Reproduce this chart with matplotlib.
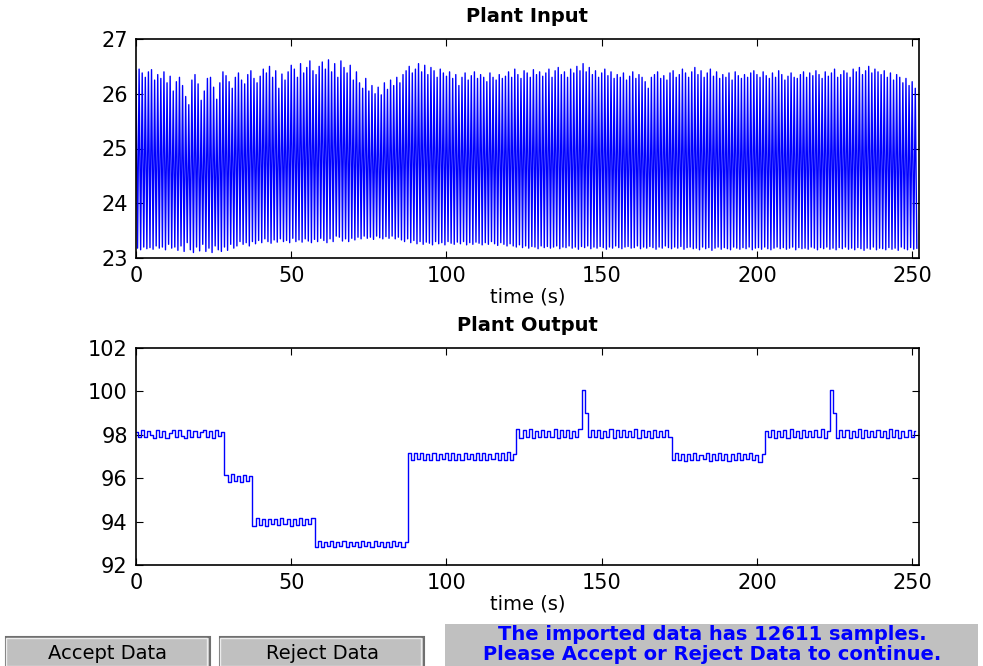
import numpy as np
import matplotlib
matplotlib.use("Agg")
import matplotlib.pyplot as plt
from matplotlib.patches import Rectangle

# the screenshot is horizontally stretched, DejaVu Sans is the widest face available
plt.rcParams['font.family'] = ['DejaVu Sans']

# Plant input: peak (high) and trough (low) value for every second of the record
input_highs = [
    26.42, 26.45, 26.38, 26.30, 26.40, 26.44, 26.25, 26.35, 26.28, 26.40, 26.20, 26.32,
    26.05, 26.22, 26.30, 26.15, 25.95, 25.80, 26.25, 26.35, 26.18, 25.88, 26.05, 26.28,
    26.30, 26.12, 25.90, 26.20, 26.40, 26.33, 26.22, 26.10, 26.30, 26.38, 26.25, 26.18,
    26.35, 26.42, 26.28, 26.20, 26.32, 26.45, 26.38, 26.50, 26.30, 26.42, 26.10, 26.36,
    26.25, 26.40, 26.52, 26.45, 26.30, 26.55, 26.38, 26.48, 26.60, 26.42, 26.35, 26.50,
    26.58, 26.45, 26.62, 26.40, 26.55, 26.30, 26.60, 26.48, 26.38, 26.52, 26.25, 26.40,
    26.20, 26.10, 26.28, 26.05, 26.15, 26.00, 26.12, 25.98, 26.20, 26.08, 26.25, 26.15,
    26.30, 26.20, 26.35, 26.42, 26.50, 26.38, 26.45, 26.55, 26.40, 26.52, 26.35, 26.48,
    26.42, 26.30, 26.45, 26.38, 26.32, 26.40, 26.28, 26.35, 26.15, 26.30, 26.38, 26.25,
    26.33, 26.40, 26.28, 26.35, 26.30, 26.22, 26.38, 26.30, 26.25, 26.35, 26.28, 26.32,
    26.40, 26.30, 26.45, 26.35, 26.28, 26.42, 26.38, 26.30, 26.44, 26.35, 26.40, 26.32,
    26.38, 26.45, 26.30, 26.42, 26.48, 26.35, 26.40, 26.30, 26.45, 26.38, 26.50, 26.42,
    26.55, 26.40, 26.48, 26.35, 26.42, 26.30, 26.38, 26.45, 26.33, 26.40, 26.28, 26.35,
    26.30, 26.38, 26.25, 26.32, 26.40, 26.28, 26.35, 26.30, 26.22, 26.10, 26.30, 26.35,
    26.40, 26.28, 26.33, 26.25, 26.38, 26.42, 26.30, 26.35, 26.45, 26.38, 26.30, 26.40,
    26.48, 26.35, 26.42, 26.30, 26.38, 26.45, 26.32, 26.40, 26.28, 26.35, 26.30, 26.38,
    26.25, 26.40, 26.33, 26.28, 26.35, 26.30, 26.38, 26.42, 26.35, 26.30, 26.40, 26.33,
    26.28, 26.38, 26.30, 26.42, 26.35, 26.25, 26.32, 26.38, 26.30, 26.28, 26.35, 26.40,
    26.30, 26.38, 26.33, 26.42, 26.35, 26.28, 26.40, 26.32, 26.38, 26.45, 26.30, 26.35,
    26.42, 26.38, 26.30, 26.45, 26.40, 26.48, 26.35, 26.42, 26.50, 26.38, 26.45, 26.40,
    26.35, 26.42, 26.30, 26.38, 26.25, 26.35, 26.30, 26.20, 26.28, 26.15, 26.22, 26.10,
]
input_lows = [
    23.18, 23.15, 23.20, 23.17, 23.19, 23.16, 23.22, 23.18, 23.20, 23.15, 23.25, 23.18,
    23.20, 23.14, 23.22, 23.12, 23.28, 23.15, 23.10, 23.20, 23.13, 23.25, 23.12, 23.18,
    23.10, 23.22, 23.15, 23.12, 23.20, 23.14, 23.25, 23.18, 23.22, 23.30, 23.25, 23.28,
    23.22, 23.30, 23.26, 23.32, 23.28, 23.35, 23.30, 23.27, 23.33, 23.29, 23.35, 23.30,
    23.32, 23.28, 23.36, 23.30, 23.33, 23.29, 23.35, 23.31, 23.28, 23.34, 23.30, 23.36,
    23.32, 23.28, 23.35, 23.30, 23.40, 23.38, 23.31, 23.35, 23.30, 23.36, 23.33, 23.38,
    23.35, 23.40, 23.36, 23.38, 23.34, 23.40, 23.37, 23.35, 23.39, 23.36, 23.40, 23.35,
    23.38, 23.33, 23.30, 23.35, 23.28, 23.32, 23.26, 23.30, 23.25, 23.29, 23.27, 23.24,
    23.30, 23.26, 23.28, 23.24, 23.30, 23.27, 23.25, 23.29, 23.26, 23.30, 23.24, 23.28,
    23.25, 23.29, 23.27, 23.24, 23.28, 23.25, 23.30, 23.26, 23.23, 23.28, 23.25, 23.22,
    23.26, 23.22, 23.20, 23.24, 23.19, 23.22, 23.18, 23.21, 23.20, 23.17, 23.22, 23.19,
    23.21, 23.18, 23.20, 23.22, 23.17, 23.20, 23.19, 23.22, 23.18, 23.20, 23.16, 23.21,
    23.19, 23.22, 23.17, 23.20, 23.18, 23.21, 23.19, 23.16, 23.20, 23.18, 23.22, 23.19,
    23.17, 23.20, 23.21, 23.18, 23.19, 23.22, 23.17, 23.20, 23.18, 23.21, 23.19, 23.16,
    23.20, 23.18, 23.22, 23.19, 23.17, 23.20, 23.18, 23.21, 23.16, 23.19, 23.20, 23.17,
    23.18, 23.15, 23.20, 23.17, 23.19, 23.14, 23.18, 23.20, 23.16, 23.19, 23.17, 23.15,
    23.20, 23.18, 23.16, 23.19, 23.17, 23.20, 23.15, 23.18, 23.19, 23.16, 23.20, 23.17,
    23.15, 23.18, 23.20, 23.17, 23.19, 23.16, 23.18, 23.20, 23.15, 23.19, 23.17, 23.18,
    23.16, 23.20, 23.18, 23.15, 23.19, 23.17, 23.20, 23.16, 23.18, 23.15, 23.19, 23.17,
    23.20, 23.16, 23.18, 23.15, 23.19, 23.17, 23.14, 23.18, 23.16, 23.20, 23.15, 23.18,
    23.17, 23.15, 23.19, 23.16, 23.18, 23.14, 23.20, 23.17, 23.15, 23.19, 23.16, 23.18,
]

# Plant output, one reading per second
output_values = [
    # ~98
    98.14, 97.88, 98.22, 97.90, 98.18, 97.98, 97.85, 98.20, 97.92, 98.16, 97.86, 98.08,
    98.24, 97.90, 98.20, 97.96, 97.86, 98.22, 97.90, 98.18, 97.88, 98.12, 98.22, 97.90,
    98.16, 97.86, 98.20, 97.94, 98.14,
    # ~96
    96.14, 95.82, 96.18, 95.86, 96.10, 95.84, 96.16, 95.88, 96.12,
    # ~94
    93.82, 94.16, 93.86, 94.10, 93.80, 94.14, 93.88, 94.12, 93.84, 94.16, 93.88, 94.10,
    93.82, 94.14, 93.86, 94.18, 93.84, 94.10, 93.88, 94.16,
    # ~93
    92.82, 93.10, 92.85, 93.08, 92.88, 93.12, 92.84, 93.08, 92.86, 93.10, 92.82, 93.08,
    92.88, 93.06, 92.85, 93.12, 92.86, 93.08, 92.83, 93.10, 92.88, 93.06, 92.85, 93.08,
    92.82, 93.12, 92.86, 93.08, 92.84, 93.06,
    # ~97
    97.18, 96.84, 97.14, 96.88, 97.16, 96.82, 97.12, 96.86, 97.18, 96.84, 97.10, 96.88,
    97.14, 96.82, 97.16, 96.86, 97.12, 96.84, 97.18, 96.88, 97.10, 96.82, 97.14, 96.86,
    97.16, 96.84, 97.12, 96.88, 97.18, 96.82, 97.14, 96.86, 97.20, 96.84, 97.10,
    # ~98 with spike
    98.28, 97.86, 98.22, 97.90, 98.26, 97.84, 98.18, 97.92, 98.24, 97.88, 98.16, 97.92,
    98.28, 97.86, 98.22, 97.90, 98.24, 97.84, 98.18, 97.90, 98.26, 100.05, 99.00, 97.88,
    98.22, 97.92, 98.24, 97.86, 98.18, 97.90, 98.26, 97.84, 98.22, 97.90, 98.24, 97.88,
    98.18, 97.92, 98.26, 97.86, 98.22, 97.90, 98.18, 97.84, 98.24, 97.90, 98.16, 97.88,
    98.22, 97.92,
    # ~97
    96.82, 97.14, 96.84, 97.10, 96.78, 97.12, 96.86, 97.16, 96.82, 97.08, 96.88, 97.14,
    96.80, 97.10, 96.84, 97.16, 96.86, 97.10, 96.78, 97.12, 96.84, 97.14, 96.82, 97.10,
    96.88, 97.16, 96.82, 97.08, 96.76, 97.12,
    # ~98 with spike
    98.18, 97.88, 98.24, 97.84, 98.16, 97.92, 98.22, 97.86, 98.26, 97.90, 98.18, 97.84,
    98.24, 97.90, 98.16, 97.88, 98.22, 97.92, 98.26, 97.86, 98.18, 100.05, 99.00, 97.86,
    98.22, 97.90, 98.24, 97.84, 98.18, 97.92, 98.26, 97.86, 98.22, 97.90, 98.16, 97.88,
    98.24, 97.90, 98.18, 97.84, 98.26, 97.90, 98.22, 97.86, 98.16, 97.92, 98.24, 97.88,
    98.18,
]

n_samples = 12611
t_end = 252.2

# interleave highs (on the second) and lows (half a second later)
t_sec = np.arange(len(input_highs))
t_in = np.column_stack([t_sec, t_sec + 0.5]).ravel()
u_in = np.column_stack([input_highs, input_lows]).ravel()
t_out = np.arange(len(output_values))

W, H = 983, 666
fig = plt.figure(figsize=(W / 100, H / 100), dpi=100)

def px(x0, y0, x1, y1):
    # pixel box (top-left origin) -> figure fraction rect
    return [x0 / W, 1 - y1 / H, (x1 - x0) / W, (y1 - y0) / H]

ax1 = fig.add_axes(px(136, 39, 919, 258))
ax2 = fig.add_axes(px(136, 348, 919, 565))

ax1.plot(t_in, u_in, color='#0000ff', lw=1.0)
ax1.set_ylim(23, 27)
ax1.set_yticks([23, 24, 25, 26, 27])
ax1.set_title('Plant Input', fontsize=14, fontweight='bold', pad=12)

ax2.plot(t_out, output_values, color='#0000ff', lw=1.0, drawstyle='steps-mid')
ax2.set_ylim(92, 102)
ax2.set_yticks([92, 94, 96, 98, 100, 102])
ax2.set_title('Plant Output', fontsize=14, fontweight='bold', pad=12)

for ax in (ax1, ax2):
    ax.set_xlim(0, t_end)
    ax.set_xticks([0, 50, 100, 150, 200, 250])
    ax.set_xlabel('time (s)', fontsize=14, labelpad=1)
    ax.tick_params(direction='in', top=True, right=True, length=5, width=0.8,
                   labelsize=15, pad=6)
    for s in ax.spines.values():
        s.set_linewidth(1.2)

# buttons and status panel
def button(x0, y0, x1, y1, label):
    fig.add_artist(Rectangle(px(x0, y0, x1, y1)[:2], (x1 - x0) / W, (y1 - y0) / H,
                             transform=fig.transFigure, facecolor='#c0c0c0',
                             edgecolor='#707070', lw=1.5))
    fig.add_artist(Rectangle(px(x0, y0, x1 - 2, y1 - 2)[:2], (x1 - x0 - 3) / W,
                             (y1 - y0 - 3) / H, transform=fig.transFigure,
                             facecolor='#c0c0c0', edgecolor='#ececec', lw=1.0))
    fig.text((x0 + x1) / 2 / W, 1 - (y0 + y1 + 2) / 2 / H, label, ha='center',
             va='center', fontsize=14, color='black')

button(6, 637, 210, 668, 'Accept Data')
button(220, 637, 424, 668, 'Reject Data')

fig.add_artist(Rectangle(px(445, 624, 978, 668)[:2], (978 - 445) / W, 44 / H,
                         transform=fig.transFigure, facecolor='#c0c0c0',
                         edgecolor='none'))
fig.text(712 / W, 1 - 634 / H, f'The imported data has {n_samples} samples.',
         ha='center', va='center', fontsize=14, fontweight='bold', color='#0000ff')
fig.text(712 / W, 1 - 655 / H, 'Please Accept or Reject Data to continue.',
         ha='center', va='center', fontsize=14, fontweight='bold', color='#0000ff')

fig.savefig('out.png', dpi=100)
